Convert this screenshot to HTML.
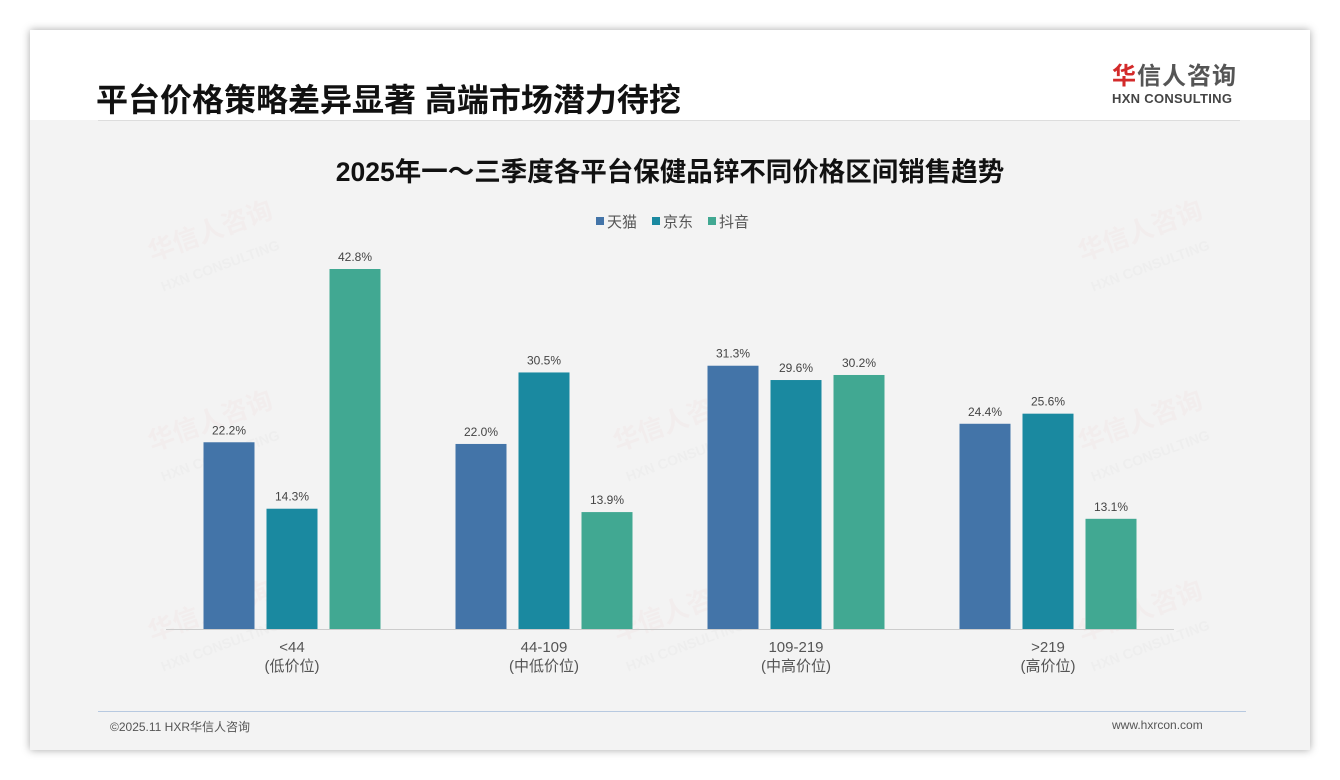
<!DOCTYPE html>
<html><head><meta charset="utf-8">
<style>
body{margin:0;width:1340px;height:780px;background:#fff;font-family:"Liberation Sans","Noto Sans CJK SC",sans-serif;overflow:hidden;position:relative}
#card{position:absolute;left:30px;top:30px;width:1280px;height:720px;background:#f3f3f3;box-shadow:0 0 8px rgba(0,0,0,.35)}
#head{position:absolute;left:0;top:0;width:1280px;height:90px;background:#fff}
.wm{position:absolute;color:rgba(220,80,80,.035);font-weight:bold;font-size:26px;transform:rotate(-20deg);white-space:nowrap}
.wm span{color:rgba(120,120,120,.035)}
</style></head><body>
<div id="card">
<div id="head"></div>
</div>
<div style="position:absolute;left:96px;top:75px;font-size:32px;font-weight:bold;color:#111;white-space:nowrap">平台价格策略差异显著 高端市场潜力待挖</div>
<div style="position:absolute;left:98px;top:120px;width:1142px;height:1px;background:#ddd"></div>
<div style="position:absolute;left:1112px;top:63px;width:140px;white-space:nowrap">
<div style="font-size:24px;font-weight:bold;color:#555;letter-spacing:1px;line-height:28px"><span style="color:#d32a2a">华</span>信人咨询</div>
<div style="font-size:13px;font-weight:bold;color:#444;letter-spacing:.3px">HXN CONSULTING</div>
</div>
<div style="position:absolute;left:0;width:1340px;top:150px;text-align:center;font-size:26.5px;font-weight:bold;color:#111;white-space:nowrap">2025年一～三季度各平台保健品锌不同价格区间销售趋势</div>
<div style="position:absolute;left:98px;top:711px;width:1148px;height:1px;background:#b7c9e0"></div>
<div style="position:absolute;left:110px;top:718px;font-size:12px;color:#555">©2025.11 HXR华信人咨询</div>
<div style="position:absolute;left:1112px;top:718px;font-size:12px;color:#555">www.hxrcon.com</div>
<div id="wms"></div>
<svg id="chart" width="1340" height="780" style="position:absolute;left:0;top:0"></svg>
<script>
const categories=["<44","44-109","109-219",">219"];
const subLabels=["(低价位)","(中低价位)","(中高价位)","(高价位)"];
const seriesNames=["天猫","京东","抖音"];
const tmall=[22.2,22.0,31.3,24.4];
const jd=[14.3,30.5,29.6,25.6];
const douyin=[42.8,13.9,30.2,13.1];
const colors=["#4374a8","#1a89a0","#41a892"];
const series=[tmall,jd,douyin];
const NS="http://www.w3.org/2000/svg";
const svg=document.getElementById('chart');
const baseY=629,scale=360/42.8;
const y=v=>baseY-v*scale;
const xc=i=>292+i*252;
function el(t,a){const e=document.createElementNS(NS,t);for(const k in a)e.setAttribute(k,a[k]);svg.appendChild(e);return e;}
const wmPos=[[150,210],[150,400],[150,590],[615,400],[615,590],[1080,210],[1080,400],[1080,590]];
const wms=document.getElementById('wms');
wmPos.forEach(p=>{const d=document.createElement('div');d.className='wm';d.style.left=p[0]+'px';d.style.top=p[1]+'px';d.innerHTML='华信人咨询<br><span style="font-size:14px">HXN CONSULTING</span>';


wms.appendChild(d);});
const ax=el('line',{x1:166,x2:1174,y1:baseY+0.5,y2:baseY+0.5,stroke:'#ccc','stroke-width':1});


series.forEach((s,si)=>{s.forEach((v,i)=>{
const cx=xc(i)+(si-1)*63;
const r=el('rect',{x:cx-25.5,y:y(v),width:51,height:baseY-y(v),fill:colors[si]});


const t=el('text',{x:cx,y:y(v)-8,'text-anchor':'middle','font-size':12,fill:'#444'});
t.textContent=v.toFixed(1)+'%';


});});
categories.forEach((c,i)=>{
const t=el('text',{x:xc(i),y:652,'text-anchor':'middle','font-size':15,fill:'#555'});t.textContent=c;


const t2=el('text',{x:xc(i),y:671,'text-anchor':'middle','font-size':15,fill:'#555'});t2.textContent=subLabels[i];


});
const lx=[596,652,708];
seriesNames.forEach((n,i)=>{
const r=el('rect',{x:lx[i],y:217,width:8,height:8,fill:colors[i]});


const t=el('text',{x:lx[i]+11,y:227,'font-size':15,fill:'#555'});t.textContent=n;


});
</script>
</body></html>
